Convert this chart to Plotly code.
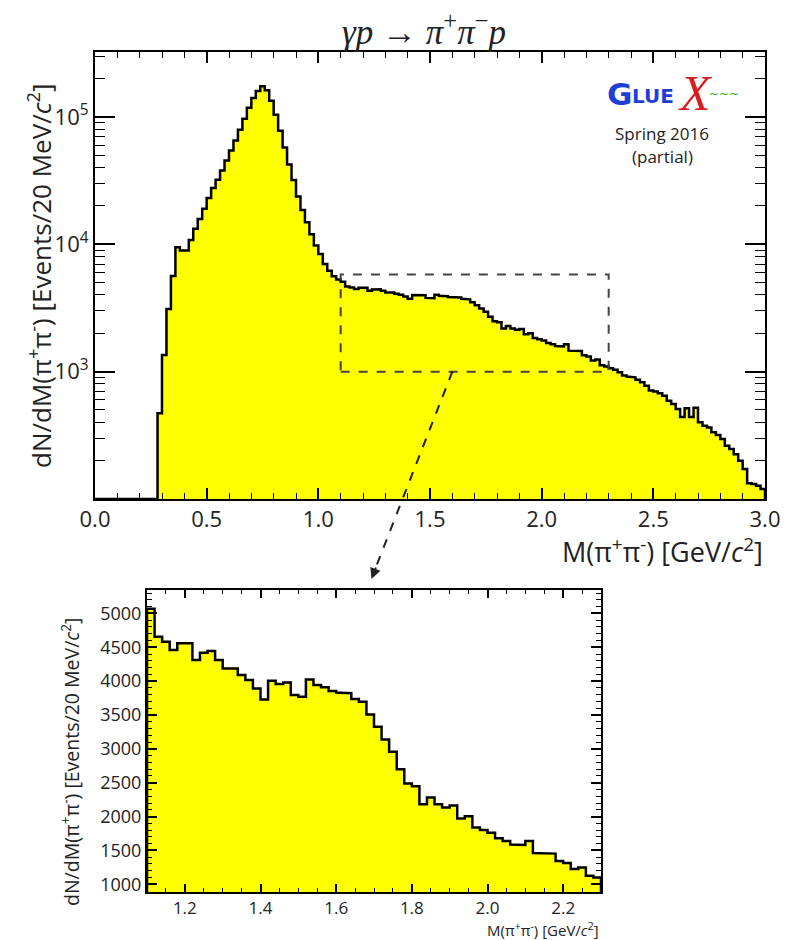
import numpy as np
import plotly.graph_objects as go

# ---------------- data (20 MeV bins from 0.0 to 3.0 GeV) ----------------
bin_lo = 0.0
bin_width = 0.02
counts = [
    0, 0, 0, 0, 0, 0, 0, 0, 0, 0,                      # 0.00-0.20
    0, 0, 0, 0, 471, 1353, 3110, 5630, 9500, 8930,      # 0.20-0.40
    8950, 10800, 13250, 15800, 19000, 23100, 27700, 32100, 38000, 45600,   # 0.40-0.60
    54600, 65400, 79400, 97000, 118000, 141000, 160000, 174000, 162000, 134000,  # 0.60-0.80
    104000, 78000, 57500, 42400, 32000, 23700, 18600, 14900, 12000, 9800,   # 0.80-1.00
    8400, 7000, 6200, 5600, 5300, 5070, 4655, 4580, 4458, 4557,            # 1.00-1.20
    4557, 4310, 4420, 4443, 4310, 4187, 4187, 4089, 4015, 3892,            # 1.20-1.40
    3729, 4005, 3956, 3980, 3793, 3768, 4025, 3941, 3910, 3852,            # 1.40-1.60
    3830, 3820, 3734, 3695, 3507, 3325, 3138, 2956, 2700, 2488,            # 1.60-1.80
    2448, 2182, 2281, 2182, 2135, 2165, 1970, 2006, 1840, 1800,            # 1.80-2.00
    1760, 1680, 1640, 1588, 1580, 1640, 1462, 1458, 1453, 1345,            # 2.00-2.20
    1315, 1225, 1246, 1125, 1100, 1064, 1037, 989, 931, 914,               # 2.20-2.40
    903, 865, 826, 776, 710, 697, 676, 648, 591, 557,                      # 2.40-2.60
    509, 440, 515, 440, 520, 400, 376, 365, 334, 318,                      # 2.60-2.80
    296, 262, 247, 225, 200, 172, 133, 131, 127, 120,                      # 2.80-3.00
]
zoom_lo, zoom_hi = 1.1, 2.3
box_lo, box_hi = 1000, 5800

x_ticks_top = [0.0, 0.5, 1.0, 1.5, 2.0, 2.5, 3.0]
x_labels_top = ["0.0", "0.5", "1.0", "1.5", "2.0", "2.5", "3.0"]
y_ticks_top = [1e3, 1e4, 1e5]
y_labels_top = ["10<sup>3</sup>", "10<sup>4</sup>", "10<sup>5</sup>"]
x_ticks_bot = [1.2, 1.4, 1.6, 1.8, 2.0, 2.2]
x_labels_bot = ["1.2", "1.4", "1.6", "1.8", "2.0", "2.2"]
y_ticks_bot = [1000, 1500, 2000, 2500, 3000, 3500, 4000, 4500, 5000]

# ---------------- layout constants ----------------
W, H = 786, 940
TOP_X = (95, 765)
TOP_Y = (52, 499)
BOT_X = (147, 601)
BOT_Y = (590, 892)
TOP_YR = [2.0, 5.51]
BOT_YR = [886, 5345]
FONT = "Open Sans"
YEL = "#ffff00"
TXT = "#222"

def px(xp):
    return xp / W

def py(yp):
    return 1 - yp / H

counts = np.array(counts, dtype=float)
edges = bin_lo + bin_width * np.arange(len(counts) + 1)

def step_xy(e, c, base):
    xs, ys = [e[0]], [base]
    for i, v in enumerate(c):
        xs += [e[i], e[i + 1]]
        ys += [v, v]
    xs.append(e[-1])
    ys.append(base)
    return xs, ys

base_top = 10 ** TOP_YR[0]
shown = np.clip(counts, base_top, None)
xs_t, ys_t = step_xy(edges, shown, base_top)

sel = (edges[:-1] >= zoom_lo - 1e-9) & (edges[:-1] < zoom_hi - 1e-9)
idx = np.where(sel)[0]
e_b = edges[idx[0]: idx[-1] + 2]
c_b = counts[idx]
xs_b, ys_b = step_xy(e_b, c_b, BOT_YR[0])

fig = go.Figure()
fig.add_trace(go.Scatter(x=xs_t, y=ys_t, mode="lines", fill="toself", fillcolor=YEL,
                         line=dict(color="black", width=2.5), xaxis="x", yaxis="y",
                         showlegend=False, hoverinfo="skip"))
fig.add_trace(go.Scatter(x=xs_b, y=ys_b, mode="lines", fill="toself", fillcolor=YEL,
                         line=dict(color="black", width=2.5), xaxis="x2", yaxis="y2",
                         showlegend=False, hoverinfo="skip"))

axis_common = dict(showline=True, linecolor="black", linewidth=2, mirror="allticks",
                   ticks="inside", tickcolor="black", showgrid=False, zeroline=False,
                   automargin=False)

fig.update_layout(
    width=W, height=H,
    margin=dict(l=0, r=0, t=0, b=0, pad=0, autoexpand=False),
    paper_bgcolor="white", plot_bgcolor="white",
    font=dict(family=FONT, color=TXT),
    xaxis=dict(domain=[px(TOP_X[0]), px(TOP_X[1])], range=[0, 3.0], anchor="y",
               tickmode="array", tickvals=x_ticks_top, ticktext=x_labels_top,
               ticklen=11, tickwidth=1.5, tickfont=dict(size=22, family=FONT, color=TXT),
               minor=dict(ticks="inside", dtick=0.1, tick0=0, ticklen=6, tickcolor="black", tickwidth=1.2),
               **axis_common),
    yaxis=dict(domain=[py(TOP_Y[1]), py(TOP_Y[0])], type="log", range=TOP_YR, anchor="x",
               tickmode="array", tickvals=y_ticks_top, ticktext=y_labels_top,
               ticklen=20, tickwidth=1.5, tickfont=dict(size=22, family=FONT, color=TXT),
               minor=dict(ticks="inside", tickmode="array",
                          tickvals=[m * 10 ** d for d in (2, 3, 4) for m in range(2, 10)] + [2e5, 3e5],
                          ticklen=10, tickcolor="black", tickwidth=1.2),
               **axis_common),
    xaxis2=dict(domain=[px(BOT_X[0]), px(BOT_X[1])], range=[zoom_lo, zoom_hi], anchor="y2",
                tickmode="array", tickvals=x_ticks_bot, ticktext=x_labels_bot,
                ticklen=8, tickwidth=1.5, tickfont=dict(size=17, family=FONT, color=TXT),
                minor=dict(ticks="inside", dtick=0.05, tick0=1.1, ticklen=4, tickcolor="black", tickwidth=1.2),
                **axis_common),
    yaxis2=dict(domain=[py(BOT_Y[1]), py(BOT_Y[0])], range=BOT_YR, anchor="x2",
                tickmode="array", tickvals=y_ticks_bot,
                ticklen=10, tickwidth=1.5, tickfont=dict(size=18, family=FONT, color=TXT),
                minor=dict(ticks="inside", dtick=100, tick0=0, ticklen=5, tickcolor="black", tickwidth=1.2),
                **axis_common),
)

# dashed zoom box
fig.add_shape(type="rect", xref="x", yref="y", x0=zoom_lo, x1=zoom_hi, y0=box_lo, y1=box_hi,
              line=dict(color="#444", width=2, dash="dash"), fillcolor="rgba(0,0,0,0)", layer="above")

# dashed arrow from box to inset
x_start = px(TOP_X[0]) + (1.6 - 0) / 3.0 * (px(TOP_X[1]) - px(TOP_X[0]))
y_start = py(TOP_Y[1]) + (np.log10(box_lo) - TOP_YR[0]) / (TOP_YR[1] - TOP_YR[0]) * (py(TOP_Y[0]) - py(TOP_Y[1]))
x_end, y_end = px(374), py(572)
fig.add_shape(type="line", xref="paper", yref="paper", x0=x_start, y0=y_start, x1=x_end, y1=y_end,
              line=dict(color="#222", width=2, dash="dash"))
fig.add_annotation(xref="paper", yref="paper", x=px(371.5), y=py(579), ax=5, ay=-13,
                   showarrow=True, arrowhead=2, arrowsize=1.2, arrowwidth=1.8, arrowcolor="#222", text="")

def label(x, y, text, size, family=FONT, color=TXT, xanchor="center", angle=0):
    fig.add_annotation(xref="paper", yref="paper", x=px(x), y=py(y), showarrow=False,
                       xanchor=xanchor, yanchor="middle", textangle=angle, text=text,
                       font=dict(family=family, size=size, color=color))

# titles / labels
label(424, 30, "<i>γp</i> → <i>π</i><sup>+</sup><i>π</i><sup>−</sup><i>p</i>", 35, family="Liberation Serif")
label(765, 550, "M(π<sup>+</sup>π<sup>-</sup>) [GeV/<i>c</i><sup>2</sup>]", 27, xanchor="right")
label(40, 276, "dN/dM(π<sup>+</sup>π<sup>-</sup>) [Events/20 MeV/<i>c</i><sup>2</sup>]", 26, angle=-90)
label(601, 929, "M(π<sup>+</sup>π<sup>-</sup>) [GeV/<i>c</i><sup>2</sup>]", 15, xanchor="right")
label(70, 762, "dN/dM(π<sup>+</sup>π<sup>-</sup>) [Events/20 MeV/<i>c</i><sup>2</sup>]", 19.5, angle=-90)

# GlueX logo + run label
label(619, 94, "<b>G</b>", 31, family="DejaVu Sans", color="#1f3fd4")
label(653, 96, "<b>LUE</b>", 20, family="DejaVu Sans", color="#1f3fd4")
label(695, 93, "<i>X</i>", 50, family="Liberation Serif", color="#d81e1e")
label(724, 94, "~~~", 12, family="DejaVu Sans", color="#22b022")
label(662, 133, "Spring 2016", 17)
label(662, 157, "(partial)", 17)

fig.write_html("out.html")
